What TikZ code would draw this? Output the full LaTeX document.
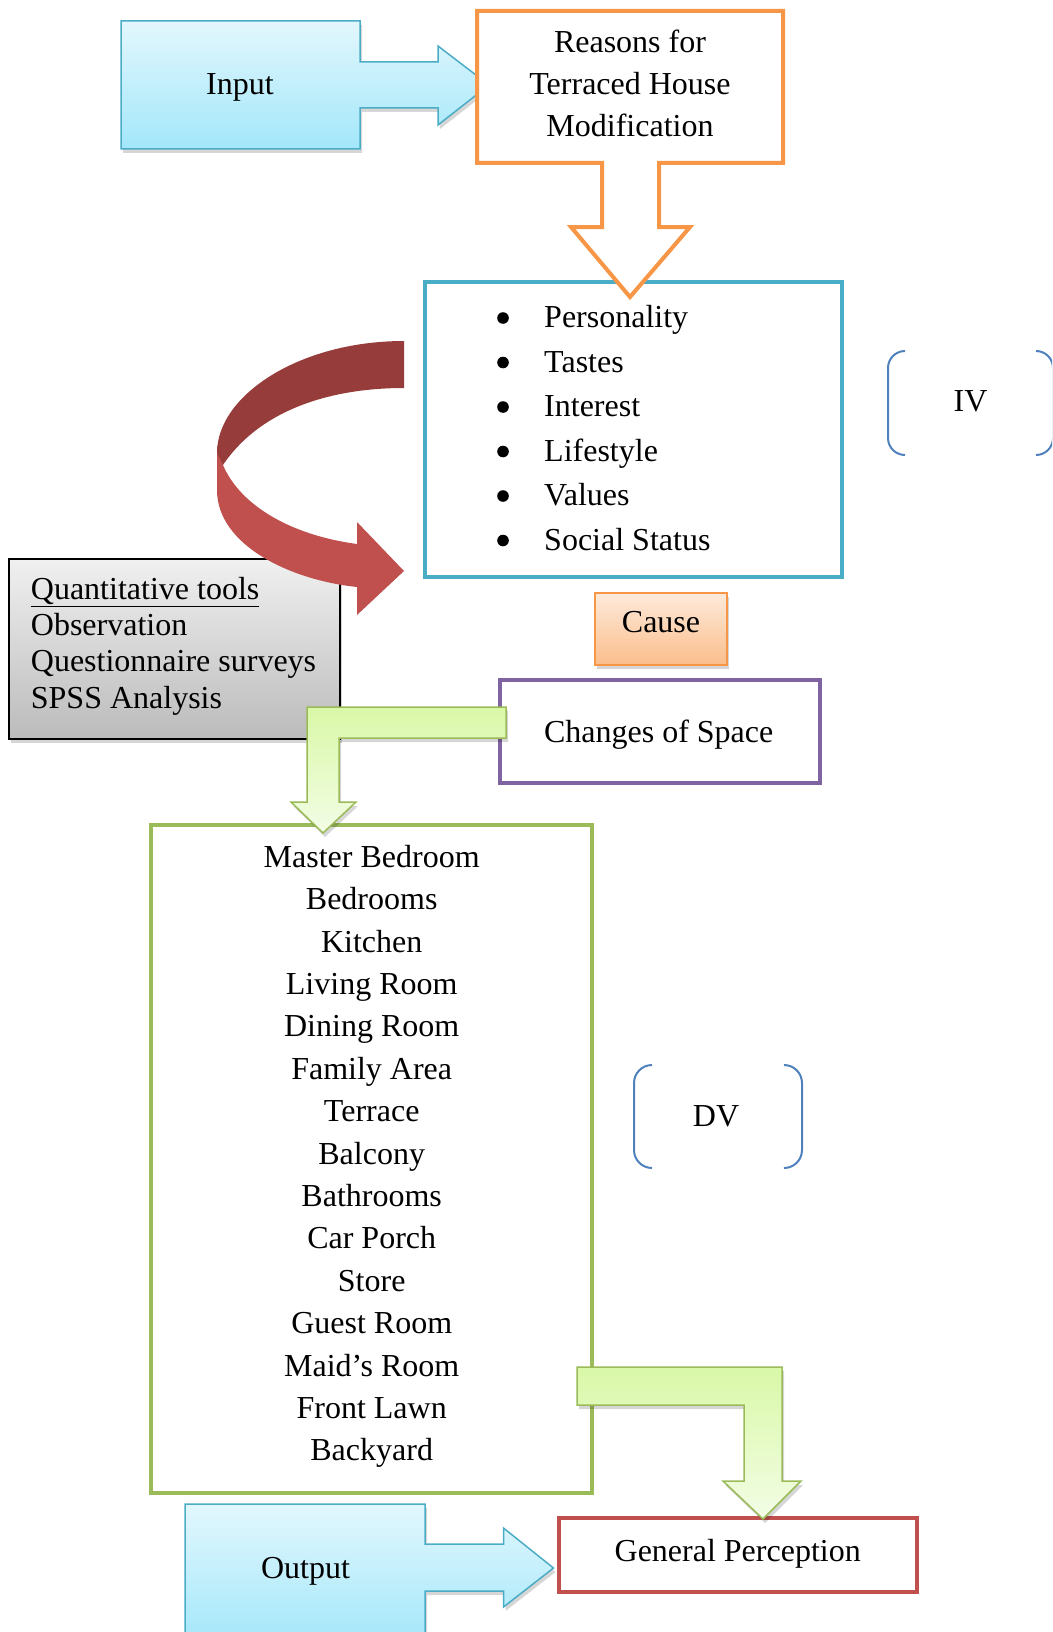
\documentclass[tikz,border=0pt]{standalone}
\usepackage{fontspec}
\setmainfont{Liberation Serif}
\usetikzlibrary{shadows}
\definecolor{cyanB}{HTML}{4BACC6}
\definecolor{cyanTop}{HTML}{E2F7FD}
\definecolor{cyanBot}{HTML}{A3E7FA}
\definecolor{orangeB}{HTML}{F79646}
\definecolor{orangeTop}{HTML}{FDEADA}
\definecolor{orangeBot}{HTML}{FBBE8C}
\definecolor{greenB}{HTML}{9BBB59}
\definecolor{greenTop}{HTML}{D9F8A7}
\definecolor{greenBot}{HTML}{F3FDE6}
\definecolor{purpleB}{HTML}{8064A2}
\definecolor{redB}{HTML}{C0504D}
\definecolor{darkRed}{HTML}{963C3B}
\definecolor{brk}{HTML}{4F81BD}
\definecolor{grayTop}{HTML}{F0F0F0}
\definecolor{grayBot}{HTML}{BBBBBB}
\tikzset{
  txt/.style={anchor=base, inner sep=0pt, font=\fontsize{32}{38}\selectfont},
  ltxt/.style={txt, anchor=base west},
  shd/.style={drop shadow={shadow xshift=2pt, shadow yshift=-4pt, opacity=0.16, fill=black}},
  bluearrow/.style={draw=cyanB, line width=1.5pt, top color=cyanTop, bottom color=cyanBot, shd},
  greenarrow/.style={draw=greenB, line width=1.5pt, top color=greenTop, bottom color=greenBot, shd},
  frame/.style={line width=4pt, line join=miter},
  bracket/.style={draw=brk, line width=2pt},
}
\begin{document}
\begin{tikzpicture}[x=1pt,y=-1pt]
\useasboundingbox (0,0) rectangle (1052,1632);
\clip (0,0) rectangle (1052,1632);

% Input block arrow
\path[bluearrow] (121,21) -- (360,21) -- (360,62) -- (438,62) -- (438,46) -- (489,85)
  -- (438,125) -- (438,108) -- (360,108) -- (360,149) -- (121,149) -- cycle;
\node[txt] (input) at (240,95) {Input};

% IV list box
\draw[frame, draw=cyanB] (425,282) rectangle (842,577);

% Reasons down-arrow callout
\path[frame, draw=orangeB, fill=white] (477,11) -- (783,11) -- (783,163) -- (659,163) -- (659,227)
  -- (690,227) -- (630,297) -- (571,227) -- (602,227) -- (602,163) -- (477,163) -- cycle;
\node[txt] (r1) at (630,52.7) {Reasons for};
\node[txt] (r2) at (630,95) {Terraced House};
\node[txt] (r3) at (630,136.7) {Modification};

% bullet list
\foreach \t [count=\i from 0] in {Personality,Tastes,Interest,Lifestyle,Values,Social Status}{
  \node[ltxt] (item\i) at (544,327.5+44.5*\i) {\t};
  \fill (503,318+44.5*\i) circle (5.8);
}

% IV brackets
\draw[bracket] (905,351) arc[start angle=270,end angle=180,radius=17] -- (888,438)
  arc[start angle=180,end angle=90,radius=17];
\draw[bracket] (1036,351) arc[start angle=270,end angle=360,radius=17] -- (1053,438)
  arc[start angle=0,end angle=90,radius=17];
\node[txt] (iv) at (970.5,411.7) {IV};

% Quantitative tools box
\path[draw=black, line width=1.5pt, top color=grayTop, bottom color=grayBot, shd] (9,559) rectangle (340,739);
\node[ltxt] (q1) at (30.7,599.3) {\underline{Quantitative tools}};
\node[ltxt] (q2) at (30.7,635.5) {Observation};
\node[ltxt] (q3) at (30.7,671.7) {Questionnaire surveys};
\node[ltxt] (q4) at (30.7,708) {SPSS Analysis};

% red curved arrow
\fill[redB] (217,445) -- (217,490) .. controls (217,545) and (290,580) .. (357,587)
  -- (357,615) -- (404,571) -- (357,522) -- (357,544)
  .. controls (290,535) and (240,505) .. (223,465) -- cycle;
\fill[darkRed] (404,341) .. controls (300,341) and (217,395) .. (217,453)
  -- (223,465) .. controls (260,410) and (330,388) .. (404,388) -- cycle;

% Cause box
\path[draw=orangeB, line width=1.5pt, top color=orangeTop, bottom color=orangeBot, shd] (595,593) rectangle (727,665);
\node[txt] (cause) at (661,632.6) {Cause};

% Changes of Space
\draw[frame, draw=purpleB] (500,680) rectangle (820,783);
\node[txt] (changes) at (658.7,742) {Changes of Space};

% rooms box
\draw[frame, draw=greenB] (151,825) rectangle (592,1493);
\foreach \t [count=\i from 0] in {Master Bedroom,Bedrooms,Kitchen,Living Room,Dining Room,Family Area,Terrace,Balcony,Bathrooms,Car Porch,Store,Guest Room,Maid’s Room,Front Lawn,Backyard}{
  \node[txt] (room\i) at (371.7,867.3+42.4*\i) {\t};
}

% green arrow 1
\path[greenarrow] (506,707) -- (307,707) -- (307,802) -- (291,802) -- (323,833) -- (356,802)
  -- (339,802) -- (339,738) -- (506,738) -- cycle;

% DV brackets
\draw[bracket] (652,1065) arc[start angle=270,end angle=180,radius=18] -- (634,1150)
  arc[start angle=180,end angle=90,radius=18];
\draw[bracket] (784,1065) arc[start angle=270,end angle=360,radius=18] -- (802,1150)
  arc[start angle=0,end angle=90,radius=18];
\node[txt] (dv) at (716,1126) {DV};

% General Perception
\draw[frame, draw=redB] (559,1518) rectangle (917,1592);
\node[txt] (gp) at (737.7,1561.7) {General Perception};

% green arrow 2
\path[greenarrow] (577,1367) -- (782,1367) -- (782,1481) -- (801,1481) -- (763,1519) -- (723,1481)
  -- (744,1481) -- (744,1405) -- (577,1405) -- cycle;

% Output block arrow
\path[bluearrow] (185,1504) -- (425,1504) -- (425,1544) -- (503.5,1544) -- (503.5,1528) -- (553.5,1568)
  -- (503.5,1607) -- (503.5,1591) -- (425,1591) -- (425,1645) -- (185,1645) -- cycle;
\node[txt] (output) at (305.5,1578.3) {Output};
\end{tikzpicture}
\end{document}
